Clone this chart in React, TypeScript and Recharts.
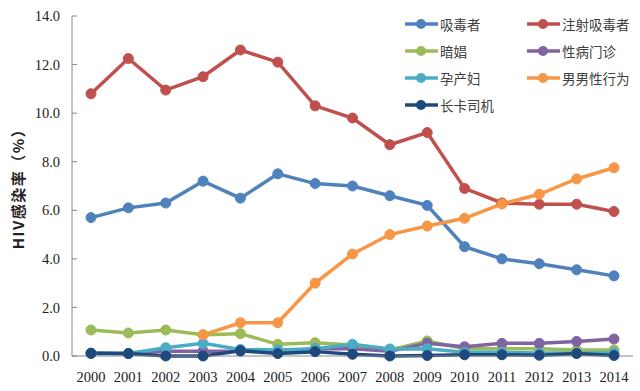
import React from 'react';
import { LineChart, Line, XAxis, YAxis, Legend } from 'recharts';

const years = ['2000','2001','2002','2003','2004','2005','2006','2007','2008','2009','2010','2011','2012','2013','2014'];
const drugUsers = [5.7, 6.1, 6.3, 7.2, 6.5, 7.5, 7.1, 7.0, 6.6, 6.2, 4.5, 4.0, 3.8, 3.55, 3.3];
const injectingDrugUsers = [10.8, 12.25, 10.95, 11.5, 12.6, 12.1, 10.3, 9.8, 8.7, 9.2, 6.9, 6.3, 6.25, 6.25, 5.95];
const sexWorkers = [1.07, 0.95, 1.07, 0.88, 0.92, 0.48, 0.55, 0.45, 0.25, 0.62, 0.3, 0.3, 0.3, 0.25, 0.25];
const stdClinic = [0.1, 0.1, 0.2, 0.2, 0.2, 0.2, 0.3, 0.3, 0.2, 0.52, 0.38, 0.52, 0.52, 0.6, 0.7];
const pregnantWomen = [0.12, 0.1, 0.34, 0.52, 0.27, 0.25, 0.3, 0.48, 0.29, 0.3, 0.15, 0.15, 0.12, 0.12, 0.12];
const msm = [null, null, null, 0.87, 1.37, 1.37, 3.0, 4.2, 5.0, 5.35, 5.67, 6.26, 6.66, 7.29, 7.75];
const truckDrivers = [0.11, 0.1, 0.0, 0.0, 0.22, 0.1, 0.18, 0.07, 0.0, 0.02, 0.05, 0.05, 0.03, 0.1, 0.02];
const yTicks = [0, 2, 4, 6, 8, 10, 12, 14];

const seriesNames = ['吸毒者', '注射吸毒者', '暗娼', '性病门诊', '孕产妇', '男男性行为', '长卡司机'];
const seriesKeys = ['s0', 's1', 's2', 's3', 's4', 's5', 's6'];
const seriesColors = ['#4F81BD', '#C0504D', '#9BBB59', '#8064A2', '#4BACC6', '#F79646', '#1F497D'];
const seriesValues = [drugUsers, injectingDrugUsers, sexWorkers, stdClinic, pregnantWomen, msm, truckDrivers];

const data = years.map((y, i) => {
  const row: any = { year: y };
  seriesKeys.forEach((k, j) => { row[k] = seriesValues[j][i]; });
  return row;
});

const cjk = '"Noto Sans CJK SC", "Noto Sans", sans-serif';
const serif = '"Liberation Serif", "DejaVu Serif", serif';

const LegendContent = () => (
  <div style={{ display: 'grid', gridTemplateColumns: '122px 110px', rowGap: 0 }}>
    {seriesNames.map((n, i) => (
      <div key={n} style={{ display: 'flex', alignItems: 'center', height: 27 }}>
        <svg width={33} height={12} style={{ display: 'block' }}>
          <line x1={0} y1={6} x2={33} y2={6} stroke={seriesColors[i]} strokeWidth={3.5} />
          <circle cx={16} cy={6} r={5} fill={seriesColors[i]} />
        </svg>
        <span style={{ marginLeft: 2, fontFamily: cjk, fontSize: 13.5, color: '#404040', lineHeight: '16px' }}>{n}</span>
      </div>
    ))}
  </div>
);

const YLabel = () => (
  <text
    x={17}
    y={185}
    transform="rotate(-90 17 185)"
    textAnchor="middle"
    dominantBaseline="central"
    style={{ fontFamily: cjk, fontWeight: 'bold', fontSize: 15, letterSpacing: 1.5 }}
    fill="#222"
  >
    HIV感染率（%）
  </text>
);

export default function App() {
  return (
    <div style={{ position: 'absolute', left: 0, top: 0, width: 640, height: 391, background: '#fff' }}>
      <LineChart width={640} height={391} data={data} margin={{ top: 16, right: 7, left: 0, bottom: 0 }}>
        <XAxis
          dataKey="year"
          padding={{ left: 19, right: 19 }}
          tickLine={false}
          tickSize={6}
          tickMargin={10}
          height={35}
          stroke="#888"
          tick={{ fill: '#222', fontFamily: serif, fontSize: 14.5 }}
        />
        <YAxis
          domain={[0, 14]}
          ticks={yTicks}
          width={72}
          tickSize={-5}
          tickMargin={17}
          stroke="#888"
          tickFormatter={(v: number) => v.toFixed(1)}
          tick={{ fill: '#222', fontFamily: serif, fontSize: 14.5 }}
          label={<YLabel />}
        />
        <Legend
          layout="horizontal"
          verticalAlign="middle"
          align="center"
          content={<LegendContent />}
          wrapperStyle={{ top: 10, left: 405, width: 240 }}
        />
        {seriesKeys.map((k, i) => (
          <Line
            key={k}
            dataKey={k}
            name={seriesNames[i]}
            stroke={seriesColors[i]}
            strokeWidth={3.5}
            dot={{ r: 5, fill: seriesColors[i], stroke: seriesColors[i], strokeWidth: 1 }}
            isAnimationActive={false}
            connectNulls={false}
          />
        ))}
      </LineChart>
    </div>
  );
}
